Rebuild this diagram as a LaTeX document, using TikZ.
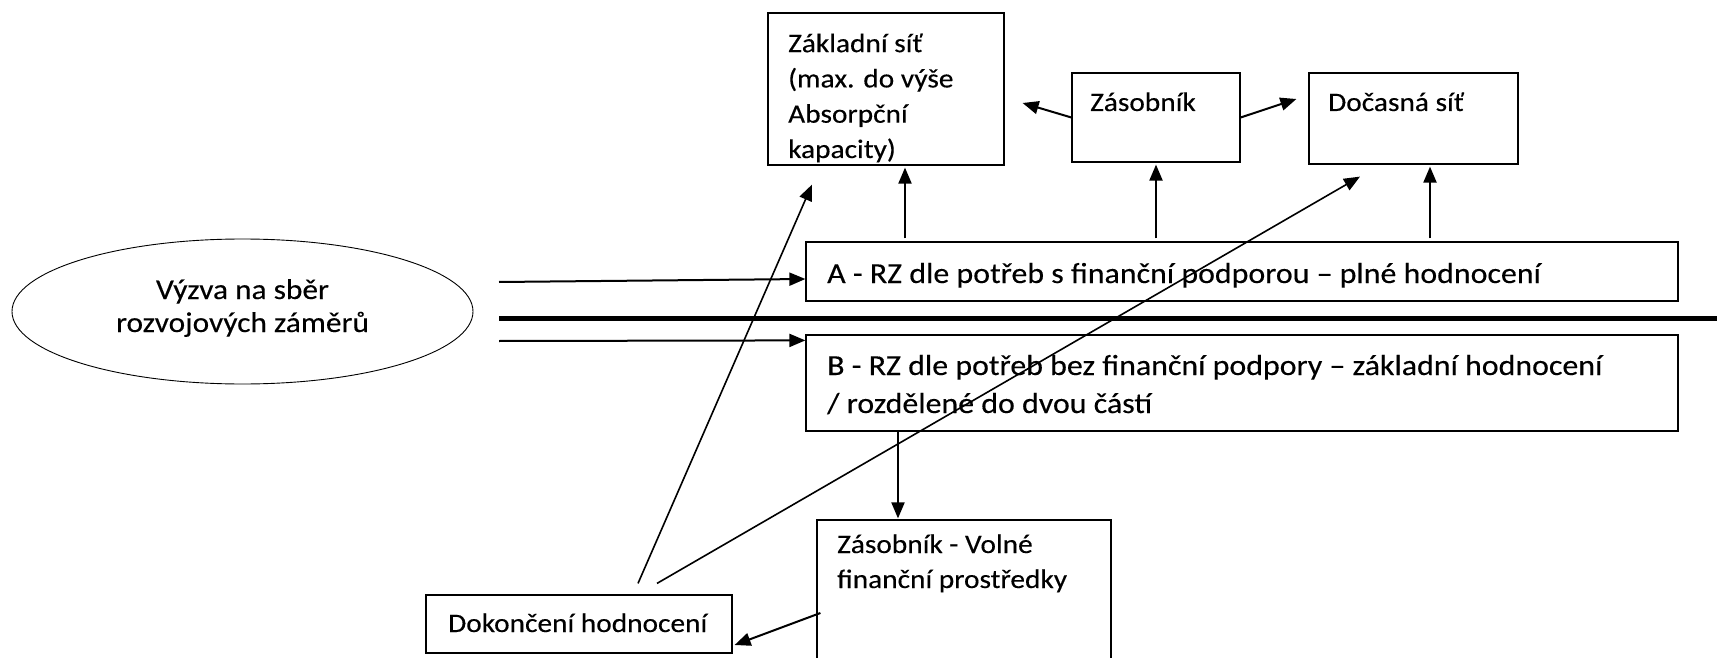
\documentclass[tikz,border=0pt]{standalone}
\usepackage{fontspec}
\setmainfont[FakeStretch=1.1,FakeBold=0.3]{Carlito}
\usetikzlibrary{arrows.meta,shapes.geometric,calc}
\begin{document}
\begin{tikzpicture}[x=1pt,y=-1pt,
  box/.style={draw, line width=1.2pt, inner sep=0pt},
  txt/.style={anchor=base west, inner sep=0pt, font=\fontsize{26.7}{35.3}\selectfont, align=left},
  big/.style={font=\fontsize{29}{38}\selectfont},
  arr/.style={-{Triangle[length=16pt,width=13pt]}, line width=2pt},
  thin/.style={-{Triangle[length=16pt,width=13pt]}, line width=1.6pt}]
\useasboundingbox (0,0) rectangle (1717,658);
% boxes
\node[box, minimum width=236pt, minimum height=152pt] (zs) at (886,89) {};
\node[box, minimum width=168pt, minimum height=89pt] (zas) at (1156,117.5) {};
\node[box, minimum width=209pt, minimum height=91pt] (doc) at (1413.5,118.5) {};
\node[box, minimum width=872pt, minimum height=59pt] (A) at (1242,271.5) {};
\node[box, minimum width=872pt, minimum height=96pt] (B) at (1242,383) {};
\node[box, minimum width=294pt, minimum height=150pt] (vol) at (964,595) {};
\node[box, minimum width=306pt, minimum height=58pt] (dok) at (579,624) {};
\node[draw, ellipse, line width=0.9pt, inner sep=0pt, minimum width=461pt, minimum height=145pt] (ell) at (242.5,311.5) {};
% texts (base anchor = baseline of last line)
\node[txt] (tzs) at (788,158) {Základní síť\\(max. do výše\\Absorpční\\kapacity)};
\node[txt] (tzas) at (1090,111) {Zásobník};
\node[txt] (tdoc) at (1328,111) {Dočasná síť};
\node[txt, big] (tA) at (827,283) {A - RZ dle potřeb s finanční podporou – plné hodnocení};
\node[txt, big] (tB) at (827,413) {B - RZ dle potřeb bez finanční podpory – základní hodnocení\\/ rozdělené do dvou částí};
\node[txt, anchor=base, align=center, font=\fontsize{28.5}{33}\selectfont] (tell) at (242.5,332) {Výzva na sběr\\rozvojových záměrů};
\node[txt, font=\fontsize{26.7}{35}\selectfont] (tvol) at (837,588) {Zásobník - Volné\\finanční prostředky};
\node[txt] (tdok) at (448,632) {Dokončení hodnocení};
% thick separator
\coordinate (tl) at (499,318);
\coordinate (tr) at (1717,318);
\draw[line width=5pt] (tl) -- (tr);
% arrows from the call
\coordinate (e1) at (499,282);
\coordinate (e2) at (499,341);
\draw[arr] (e1) -- ($(A.west)+(0,7.5)$);
\draw[arr] (e2) -- ($(B.north west)+(0,6)$);
% arrows from A upward
\draw[arr] ($(A.north)+(-337,-3)$) -- ($(zs.south)+(19,2)$);
\draw[arr] ($(A.north)+(-86,-3)$) -- ($(zas.south)+(0,2)$);
\draw[arr] ($(A.north)+(188,-3)$) -- ($(doc.south)+(16.5,2)$);
% from Zásobník sideways
\draw[arr] (zas.west) -- ($(zs.east)+(18,14)$);
\draw[arr] (zas.east) -- ($(doc.west)+(-12,-19.5)$);
% B down to vol
\draw[arr] ($(B.south)+(-344,0)$) -- ($(vol.north)+(-66,-1)$);
% vol to dok
\draw[arr] ($(vol.west)+(4,18)$) -- ($(dok.east)+(2,21)$);
% dok up
\draw[thin] ($(dok.north)+(59,-11)$) -- ($(zs.south)+(-74,19)$);
\draw[thin] ($(dok.north)+(78,-11)$) -- ($(doc.south)+(-53.5,12)$);
\end{tikzpicture}
\end{document}
